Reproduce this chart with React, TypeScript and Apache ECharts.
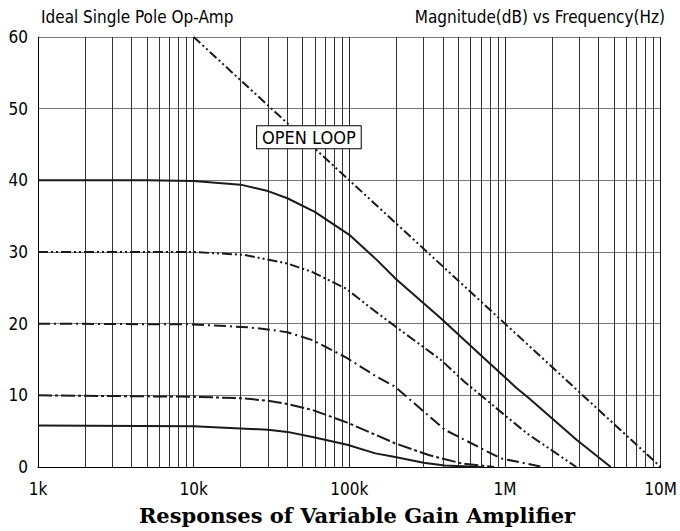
import React, { useEffect, useRef } from "react";
import * as echarts from "echarts";

const NARROW = "'Liberation Sans Narrow', 'DejaVu Sans Condensed', 'Arial Narrow', sans-serif";
const SERIF = "'DejaVu Serif', 'Liberation Serif', serif";

const xTickLabels: Record<number, string> = { 1000: "1k", 10000: "10k", 100000: "100k", 1000000: "1M", 10000000: "10M" };

const minorGridFreqs = [
  2000, 3000, 4000, 5000, 6000, 7000, 8000, 9000,
  20000, 30000, 40000, 50000, 60000, 70000, 80000, 90000,
  200000, 300000, 400000, 500000, 600000, 700000, 800000, 900000,
  2000000, 3000000, 4000000, 5000000, 6000000, 7000000, 8000000, 9000000,
];

const openLoop: [number, number][] = [[10000, 60], [10000000, 0]];

const gain40: [number, number][] = [
  [1000, 40], [5000, 40], [10000, 39.9], [20000, 39.4], [30000, 38.5], [40000, 37.5],
  [60000, 35.6], [100000, 32.4], [150000, 28.9], [200000, 26.2], [390000, 20.7], [740000, 15.1],
  [1190000, 11.0], [1390000, 9.8], [2880000, 3.8], [4780000, 0],
];

const gain30: [number, number][] = [
  [1000, 30], [10000, 30], [21000, 29.6], [40000, 28.4], [58000, 27.2], [95000, 24.9],
  [147000, 21.7], [195000, 19.7], [390000, 14.9], [548000, 11.9], [1380000, 4.7], [2870000, 0],
];

const gain20: [number, number][] = [
  [1000, 20], [10000, 19.9], [22000, 19.5], [30000, 19.2], [40000, 18.8], [58000, 17.7],
  [95000, 15.3], [150000, 12.6], [197000, 11.2], [410000, 5.2], [940000, 1.2], [1760000, 0],
];

const gain10: [number, number][] = [
  [1000, 10], [10000, 9.8], [20000, 9.6], [30000, 9.25], [40000, 8.8], [58000, 7.95],
  [97000, 6.2], [147000, 4.5], [197000, 3.3], [320000, 1.7], [525000, 0.5], [850000, 0],
];

const gain6: [number, number][] = [
  [1000, 5.8], [10000, 5.7], [30000, 5.2], [40000, 4.9], [58000, 4.2], [97000, 3.1],
  [147000, 1.9], [197000, 1.4], [300000, 0.6], [410000, 0.2], [700000, 0],
];

const openLoopLabelAt: [number, number] = [55000, 46];

export default function App() {
  const ref = useRef<HTMLDivElement>(null);
  useEffect(() => {
    if (!ref.current) return;
    const chart = echarts.init(ref.current, null, { renderer: "svg" });
    const curve = (name: string, data: [number, number][], dash: any) => ({
      name,
      type: "line",
      data,
      showSymbol: false,
      symbol: "none",
      smooth: false,
      z: 10,
      lineStyle: { color: "#1a1a1a", width: 2, type: dash, join: "round" },
    });
    chart.setOption({
      animation: false,
      backgroundColor: "#fff",
      title: [
        {
          text: "Ideal Single Pole Op-Amp",
          left: 36,
          top: 3,
          textStyle: { fontFamily: NARROW, fontSize: 17, fontWeight: "normal", color: "#000" },
        },
        {
          text: "Magnitude(dB) vs Frequency(Hz)",
          right: 10,
          top: 3,
          textStyle: { fontFamily: NARROW, fontSize: 17, fontWeight: "normal", color: "#000" },
        },
        {
          text: "Responses of Variable Gain Amplifier",
          left: 352,
          textAlign: "center",
          top: 500,
          textStyle: { fontFamily: SERIF, fontSize: 21, fontWeight: "bold", color: "#000" },
        },
      ],
      grid: { left: 38, right: 12, top: 37, bottom: 64 },
      xAxis: {
        type: "log",
        logBase: 10,
        min: 1000,
        max: 10000000,
        axisLine: { show: true, lineStyle: { color: "#000", width: 1 } },
        axisTick: { show: false },
        axisLabel: {
          fontFamily: NARROW,
          fontSize: 17,
          color: "#000",
          margin: 13,
          formatter: (v: number) => xTickLabels[Math.round(v)] ?? "",
        },
        splitLine: { show: true, lineStyle: { color: "#222", width: 1 } },
      },
      yAxis: {
        type: "value",
        min: 0,
        max: 60,
        interval: 10,
        axisLine: { show: true, lineStyle: { color: "#000", width: 1 } },
        axisTick: { show: false },
        axisLabel: { fontFamily: NARROW, fontSize: 17, color: "#000", margin: 10 },
        splitLine: { show: true, lineStyle: { color: "#7a7a7a", width: 1 } },
      },
      series: [
        {
          name: "grid",
          type: "line",
          data: [],
          z: 1,
          markLine: {
            silent: true,
            symbol: ["none", "none"],
            label: { show: false },
            lineStyle: { color: "#333", width: 1, type: "solid" },
            data: minorGridFreqs.map((f) => ({ xAxis: f })),
          },
        },
        curve("open", openLoop, [9, 3, 2, 3, 2, 3]),
        curve("g40", gain40, "solid"),
        curve("g30", gain30, [10, 3, 2, 3, 2, 3]),
        curve("g20", gain20, [12, 4, 2, 4]),
        curve("g10", gain10, [14, 3, 3, 3]),
        curve("g6", gain6, "solid"),
        {
          name: "label",
          type: "line",
          data: [],
          z: 30,
          markPoint: {
            z: 50,
            symbol: "rect",
            symbolSize: 0,
            silent: true,
            data: [{ coord: openLoopLabelAt }],
            label: {
              show: true,
              formatter: "OPEN LOOP",
              fontFamily: NARROW,
              fontSize: 18,
              color: "#000",
              backgroundColor: "#fff",
              borderColor: "#000",
              borderWidth: 1,
              padding: [3, 5, 1, 5],
            },
          },
        },
      ],
    });
    return () => chart.dispose();
  }, []);
  return <div ref={ref} style={{ width: 680, height: 531, position: "absolute", left: 0, top: 0 }} />;
}
